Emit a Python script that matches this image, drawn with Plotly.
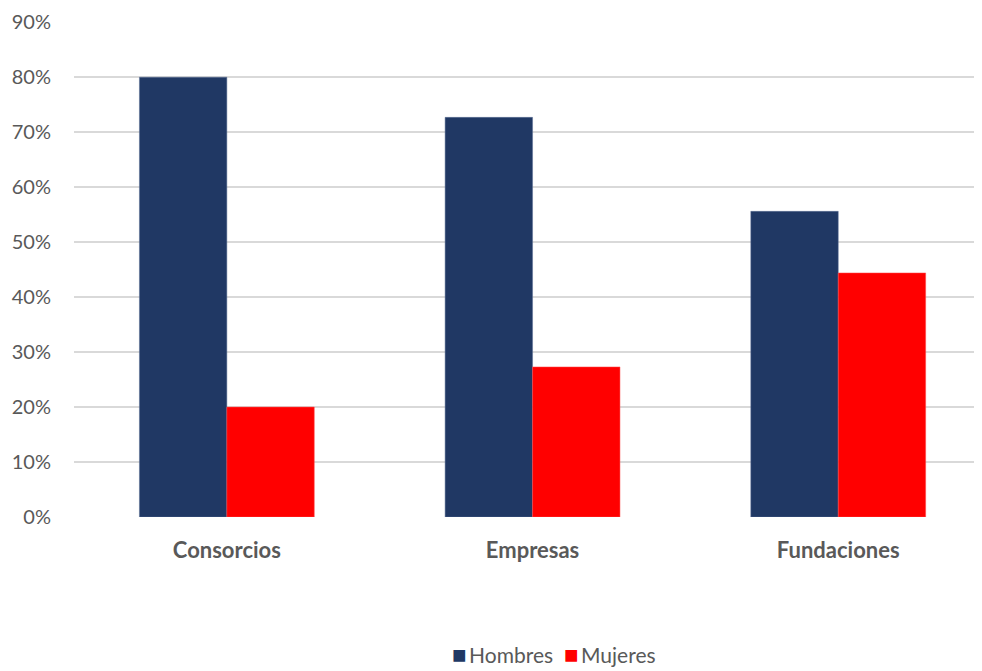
import plotly.graph_objects as go

categories = ["Consorcios", "Empresas", "Fundaciones"]
hombres = [0.80, 0.727, 0.556]
mujeres = [0.20, 0.273, 0.444]
y_ticks = [0, 0.1, 0.2, 0.3, 0.4, 0.5, 0.6, 0.7, 0.8, 0.9]
y_tick_labels = ["0%", "10%", "20%", "30%", "40%", "50%", "60%", "70%", "80%", "90%"]
series_names = ["Hombres", "Mujeres"]
series_colors = ["#203864", "#ff0000"]

FONT = "Lato, Open Sans, sans-serif"

fig = go.Figure()
fig.add_trace(go.Bar(name=series_names[0], x=categories, y=hombres,
                     marker=dict(color=series_colors[0], line=dict(width=0.5, color="#5a6f94"))))
fig.add_trace(go.Bar(name=series_names[1], x=categories, y=mujeres,
                     marker=dict(color=series_colors[1], line=dict(width=0.5, color="#ff5050"))))

legend_text = "&nbsp;&nbsp;".join(
    f"<span style='color:{c};font-size:24px'>■</span>\u2009{n}" for n, c in zip(series_names, series_colors)
)
fig.add_annotation(text=legend_text, xref="paper", yref="paper", x=0.52, y=-0.276,
                   xanchor="center", yanchor="middle", showarrow=False,
                   font=dict(family=FONT, size=21, color="#595959"))

fig.update_layout(
    width=990, height=663,
    margin=dict(l=66, r=0, t=14, b=154, autoexpand=False),
    paper_bgcolor="white", plot_bgcolor="white",
    barmode="group", bargap=0.428, bargroupgap=0,
    font=dict(family=FONT, color="#595959", size=20),
    showlegend=False,
    xaxis=dict(range=[-0.5, 2.5226], showgrid=False, zeroline=False, showline=False,
               automargin=False, ticks="",
               tickfont=dict(size=22, color="#595959", family=FONT, weight="bold"),
               ticklabelstandoff=18),
    yaxis=dict(range=[0, 0.9005], tickvals=y_ticks, ticktext=y_tick_labels,
               showgrid=True, gridcolor="#d9d9d9", gridwidth=1.5, zeroline=False,
               automargin=False, showline=False, ticks="", ticklabelstandoff=22,
               tickfont=dict(size=20, color="#595959", family=FONT)),
)

fig.write_html("out.html")
